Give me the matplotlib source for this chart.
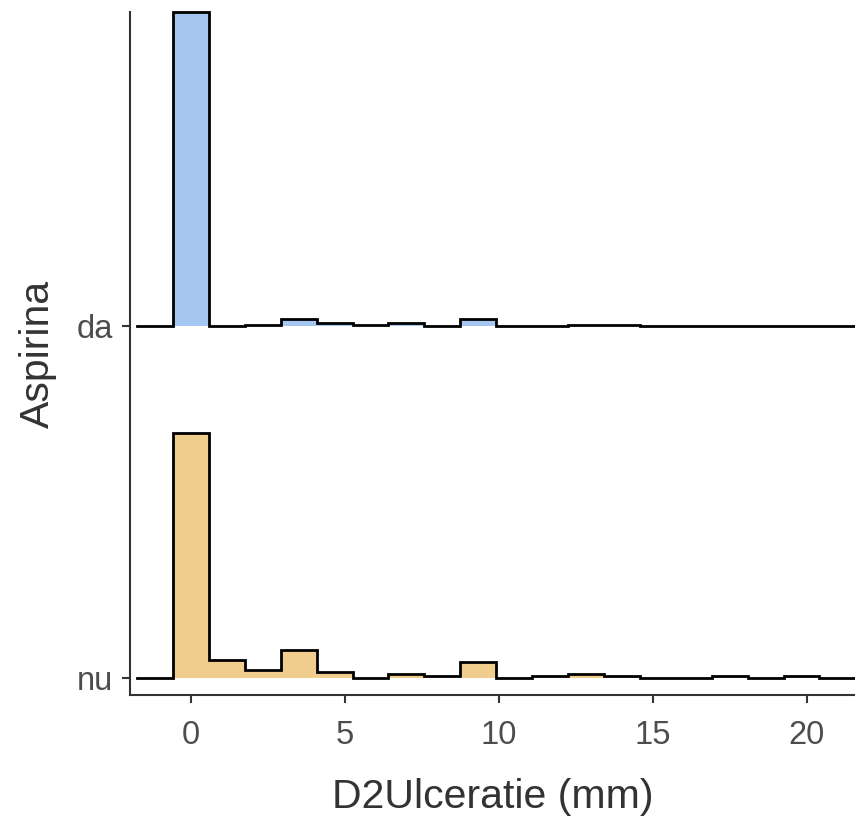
"""
    Ridgeline histogram of D2 ulceration size by aspirin group.
"""
import numpy as np
import matplotlib
matplotlib.use("Agg")
import matplotlib.pyplot as plt

plt.rcParams['font.family'] = ['Liberation Sans', 'DejaVu Sans']

GROUPS = ["nu", "da"]
COLORS = {"nu": "#F0CD8C", "da": "#A5C6F1"}

# bin layout (bins centred on multiples of the bin width)
BIN_WIDTH = 1.166
N_BINS = 19

# counts per bin, starting with the bin centred on 0
COUNTS_NU = [121, 9, 4, 14, 3, 0, 2, 1, 8, 0, 1, 2, 1, 0, 0, 1, 0, 1, 0]
COUNTS_DA = [216, 0, 1, 5, 2, 1, 2, 0, 5, 0, 0, 1, 1, 0, 0, 0, 0, 0, 0]

X_TICKS = [0, 5, 10, 15, 20]
SCALE = 0.892


def outline(edges, heights, base):
    """Step outline with an empty bin added on each side."""
    e = np.concatenate([[edges[0] - BIN_WIDTH], edges, [edges[-1] + BIN_WIDTH]])
    h = np.concatenate([[0], heights, [0]])
    xs = np.repeat(e, 2)[1:-1]
    ys = np.repeat(h, 2) + base
    return xs, ys


def main():
    edges = -BIN_WIDTH / 2 + BIN_WIDTH * np.arange(N_BINS + 1)
    dens = {}
    for name, counts in (("nu", COUNTS_NU), ("da", COUNTS_DA)):
        c = np.array(counts, dtype=float)
        dens[name] = c / (c.sum() * BIN_WIDTH)
    top = max(d.max() for d in dens.values())

    fig = plt.figure(figsize=(8.55, 8.17), dpi=100)
    ax = fig.add_axes([0.152, 0.149, 0.848, 0.836])

    # upper ridges first so lower ones sit on top
    for i, name in reversed(list(enumerate(GROUPS))):
        base = i + 1
        xs, ys = outline(edges, dens[name] / top * SCALE, base)
        ax.fill_between(xs, base, ys, color=COLORS[name], lw=0, zorder=2 + (2 - i))
        ax.plot(xs, ys, color="black", lw=2.0, zorder=3 + (2 - i), clip_on=False,
                solid_joinstyle="miter")

    ax.set_xlim(-1.98, 21.56)
    ax.set_ylim(0.952, 2.892)
    ax.set_xticks(X_TICKS)
    ax.set_yticks([1, 2])
    ax.set_yticklabels(GROUPS)

    for side in ("top", "right"):
        ax.spines[side].set_visible(False)
    for side in ("left", "bottom"):
        ax.spines[side].set_color("#333333")
        ax.spines[side].set_linewidth(1.5)
    ax.tick_params(length=5.5, width=1.5, color="#333333", labelcolor="#4D4D4D",
                   labelsize=23.5, pad=7)
    ax.tick_params(axis="x", pad=12)

    ax.set_xlabel("D2Ulceratie (mm)", fontsize=29.5, color="#333333", labelpad=20)
    ax.set_ylabel("Aspirina", fontsize=29.5, color="#333333", labelpad=14)

    fig.savefig("out.png", dpi=100)


if __name__ == "__main__":
    main()
